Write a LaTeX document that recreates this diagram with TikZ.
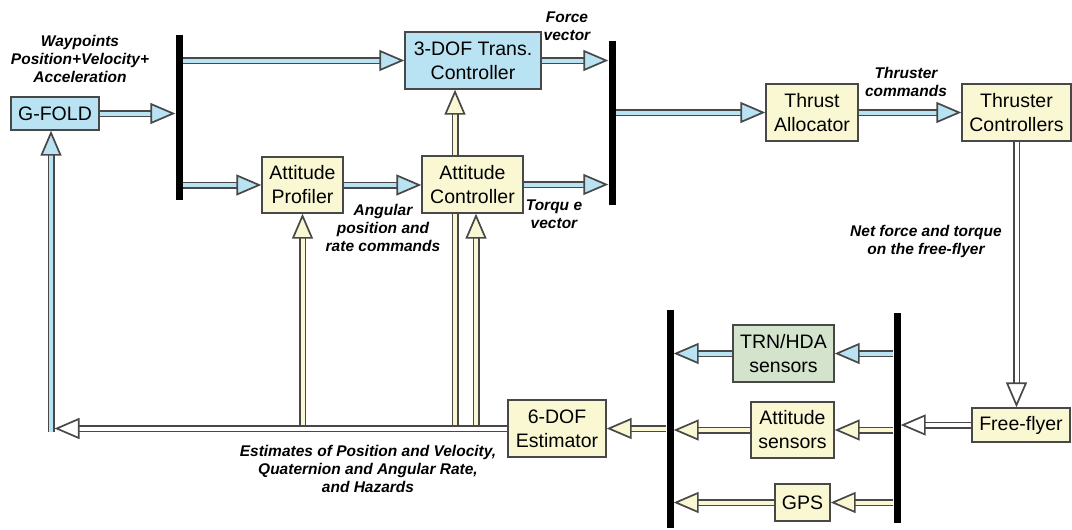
\documentclass[tikz,border=0pt]{standalone}
\usepackage{fontspec}
\setmainfont{Liberation Sans}
\usetikzlibrary{arrows.meta}
\definecolor{skyfill}{HTML}{B9E2F2}
\definecolor{creamfill}{HTML}{FAF8D2}
\definecolor{sagefill}{HTML}{D3E3CC}
\definecolor{edge}{HTML}{484848}
\newcommand{\boxfont}{\fontsize{19.5}{24}\selectfont}
\newcommand{\lblfont}{\fontsize{15.5}{18}\selectfont\bfseries\itshape}

\begin{document}
\begin{tikzpicture}[x=1pt,y=-1pt,
  blk/.style={draw=edge,line width=1.4pt,inner sep=0pt,align=center,font=\boxfont},
  sky/.style={blk,fill=skyfill},
  cream/.style={blk,fill=creamfill},
  sage/.style={blk,fill=sagefill},
  bus/.style={fill=black,inner sep=0pt,minimum width=7pt},
  lbl/.style={align=center,font=\lblfont},
  shaft/.style={draw=edge,line width=1.5pt,double=#1,double distance=4pt},
  pipe/.style={shaft=#1,-{Triangle[length=25pt,width=21pt,line width=1.7pt,fill=#1]}}]
\useasboundingbox (0,0) rectangle (1072,530);
\node[sky,minimum width=88pt,minimum height=33pt] (gfold) at (55,113.5) {G-FOLD};
\node[sky,minimum width=136pt,minimum height=57pt] (trans) at (473,60.5) {3-DOF Trans.\\Controller};
\node[cream,minimum width=81pt,minimum height=56pt] (prof) at (302.5,185) {Attitude\\Profiler};
\node[cream,minimum width=101pt,minimum height=57pt] (actl) at (472.5,184.5) {Attitude\\Controller};
\node[cream,minimum width=92pt,minimum height=57pt] (alloc) at (812,112.5) {Thrust\\Allocator};
\node[cream,minimum width=109pt,minimum height=57pt] (thctl) at (1016.5,112.5) {Thruster\\Controllers};
\node[cream,minimum width=98pt,minimum height=34pt] (ff) at (1021,425) {Free-flyer};
\node[cream,minimum width=98pt,minimum height=57pt] (est) at (557,428.5) {6-DOF\\Estimator};
\node[sage,minimum width=101pt,minimum height=57pt] (trn) at (783.5,353.5) {TRN/HDA\\sensors};
\node[cream,minimum width=83pt,minimum height=56pt] (atts) at (792.5,430) {Attitude\\sensors};
\node[cream,minimum width=55pt,minimum height=37pt] (gps) at (802.5,502.5) {GPS};
\node[bus,minimum height=165pt] (bus1) at (179,117.5) {};
\node[bus,minimum height=164pt] (bus2) at (612,123) {};
\node[bus,minimum height=218pt] (bus3) at (670,419) {};
\node[bus,minimum height=210pt] (bus4) at (897,418) {};
\node[lbl] (wayp) at (80,59) {Waypoints\\Position+Velocity+\\Acceleration};
\node[lbl] (force) at (567,26) {Force\\vector};
\node[lbl] (torque) at (554,214) {Torqu e\\vector};
\node[lbl] (angle) at (383,228) {Angular\\position and\\rate commands};
\node[lbl] (thcmd) at (906,81.5) {Thruster\\commands};
\node[lbl] (netf) at (926,241.5) {Net force and torque\\on the free-flyer};
\node[lbl] (estim) at (368,468.5) {Estimates of Position and Velocity,\\Quaternion and Angular Rate,\\and Hazards};
\coordinate (fb) at (51,428.5);
\coordinate (tin) at ([xshift=-18pt]trans.south);
\coordinate (cin) at ([xshift=3.5pt]actl.south);
\coordinate (tlo) at (tin |- actl.north);
\draw[pipe=skyfill] (gfold.east) -- (bus1.west |- gfold.east);
\draw[pipe=skyfill] (bus1.east |- trans.west) -- (trans.west);
\draw[pipe=skyfill] (bus1.east |- prof.west) -- (prof.west);
\draw[pipe=skyfill] (prof.east) -- (prof.east -| actl.west);
\draw[pipe=skyfill] (trans.east) -- (bus2.west |- trans.east);
\draw[pipe=skyfill] (actl.east) -- (bus2.west |- actl.east);
\draw[pipe=skyfill] (bus2.east |- alloc.west) -- (alloc.west);
\draw[pipe=skyfill] (alloc.east) -- (thctl.west);
\draw[pipe=white] (thctl.south) -- (thctl.south |- ff.north);
\draw[pipe=white] (ff.west) -- (bus4.east |- ff.west);
\draw[pipe=skyfill] (bus4.west |- trn.east) -- (trn.east);
\draw[pipe=skyfill] (trn.west) -- (bus3.east |- trn.west);
\draw[pipe=creamfill] (bus4.west |- atts.east) -- (atts.east);
\draw[pipe=creamfill] (atts.west) -- (bus3.east |- atts.west);
\draw[pipe=creamfill] (bus4.west |- gps.east) -- (gps.east);
\draw[pipe=creamfill] (gps.west) -- (bus3.east |- gps.west);
\draw[pipe=creamfill] (bus3.west |- est.east) -- (est.east);
\draw[pipe=creamfill] (prof.south |- fb) -- (prof.south);
\draw[shaft=creamfill] (tin |- fb) -- (tin |- actl.south);
\draw[pipe=creamfill] (tlo) -- (tin);
\draw[pipe=creamfill] (cin |- fb) -- (cin);
\draw[pipe=skyfill] ([yshift=-3pt]fb) -- (fb |- gfold.south);
\draw[pipe=white] (est.west) -- ([xshift=3.5pt]fb);
\end{tikzpicture}
\end{document}
